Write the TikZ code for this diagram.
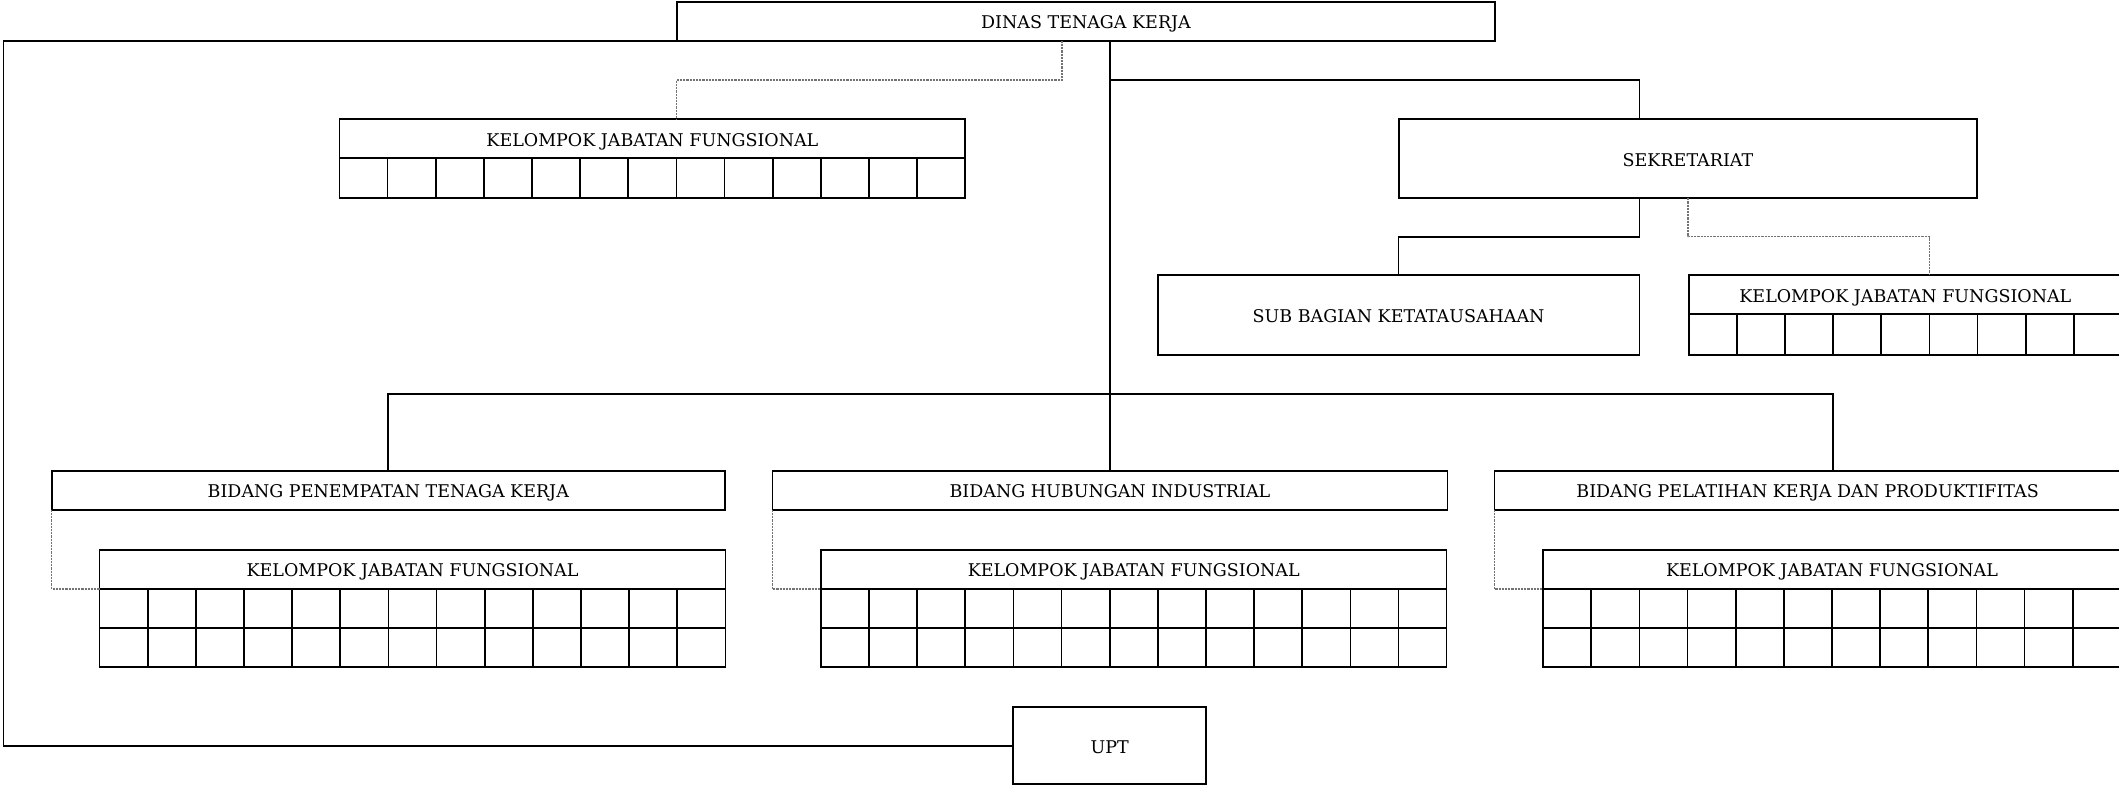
\documentclass[tikz,border=0pt]{standalone}
\usepackage{fontspec}
\setmainfont{DejaVu Serif}
\usetikzlibrary{calc}

\definecolor{dotgray}{RGB}{115,115,115}

% grid of empty cells hanging under a header node:
% #1 header node, #2 columns, #3 rows, #4 row height
\newcommand\kjfcells[4]{%
  \foreach \c in {1,...,#2}{%
    \foreach \r in {1,...,#3}{%
      \draw[cellline,shift={(#1.south west)}]
        ({(\c-1)*48.14},{(\r-1)*#4}) rectangle ++(48.14,#4);}}}

\begin{document}
\begin{tikzpicture}[x=1pt,y=-1pt,
  box/.style={draw, line width=1.7pt, inner sep=0pt, outer sep=0pt,
    anchor=north west, text height=14.8pt, text depth=0pt,
    font=\fontsize{17.5}{20}\selectfont},
  link/.style={line width=1.7pt},
  dotlink/.style={line width=1.1pt, dotgray, dash pattern=on 2.2pt off 1pt},
  cellline/.style={line width=1.7pt}]
\useasboundingbox (0,0) rectangle (2119,785);

% helper levels for the branching bars
\coordinate (toprow) at (0,80);
\coordinate (midrow) at (0,394);
\coordinate (looppt) at (3.5,745.8);

% head office
\node[box, minimum width=818, minimum height=38.4] (dinas) at (677,2.3) {DINAS TENAGA KERJA};

% functional group under the head
\node[box, minimum width=625.8, minimum height=38.7] (kjf0) at (339.5,119.3) {KELOMPOK JABATAN FUNGSIONAL};
\kjfcells{kjf0}{13}{1}{40.2}

% secretariat branch
\node[box, minimum width=578, minimum height=78.8] (sek) at (1399,119.3) {SEKRETARIAT};
\node[box, minimum width=481.8, minimum height=79.7] (sub) at (1157.7,275.3) {SUB BAGIAN KETATAUSAHAAN};
\node[box, minimum width=433.3, minimum height=38.7] (kjf1) at (1688.7,275.3) {KELOMPOK JABATAN FUNGSIONAL};
\kjfcells{kjf1}{9}{1}{41}

% divisions
\node[box, minimum width=672.8, minimum height=39] (pen) at (51.9,470.7) {BIDANG PENEMPATAN TENAGA KERJA};
\node[box, minimum width=675.1, minimum height=39] (hub) at (772.4,470.7) {BIDANG HUBUNGAN INDUSTRIAL};
\node[box, minimum width=626, minimum height=39] (pel) at (1494.6,470.7) {BIDANG PELATIHAN KERJA DAN PRODUKTIFITAS};

% functional groups of the divisions
\node[box, minimum width=625.8, minimum height=39] (kjfA) at (99.6,550) {KELOMPOK JABATAN FUNGSIONAL};
\kjfcells{kjfA}{13}{2}{38.9}
\node[box, minimum width=625.8, minimum height=39] (kjfB) at (820.8,550) {KELOMPOK JABATAN FUNGSIONAL};
\kjfcells{kjfB}{13}{2}{38.9}
\node[box, minimum width=577.7, minimum height=39] (kjfC) at (1543.1,550) {KELOMPOK JABATAN FUNGSIONAL};
\kjfcells{kjfC}{12}{2}{38.9}

% technical unit
\node[box, minimum width=193.3, minimum height=77] (upt) at (1013,707.3) {UPT};

% solid lines of command
\draw[link] (dinas.south -| hub.north) -- (hub.north);
\draw[link] (hub.north |- toprow) -| (sek.north -| sub.east);
\draw[link] (sek.south -| sub.east) -- ++(0,38.7) -| (sub.north);
\draw[link] (pen.north) -- (pen.north |- midrow) -| ([xshift=338.4pt]pel.north west);
\draw[link] (dinas.south west) -| (looppt) -- (upt.west);

% dotted lines of coordination
\draw[dotlink] ([xshift=-24pt]dinas.south) -- ++(0,39.3) -| ([xshift=337pt]kjf0.north west);
\draw[dotlink] (sek.south) -- ++(0,38.7) -| ([xshift=240.7pt]kjf1.north west);
\draw[dotlink] (pen.south west) |- (kjfA.south west);
\draw[dotlink] (hub.south west) |- (kjfB.south west);
\draw[dotlink] (pel.south west) |- (kjfC.south west);
\end{tikzpicture}
\end{document}
